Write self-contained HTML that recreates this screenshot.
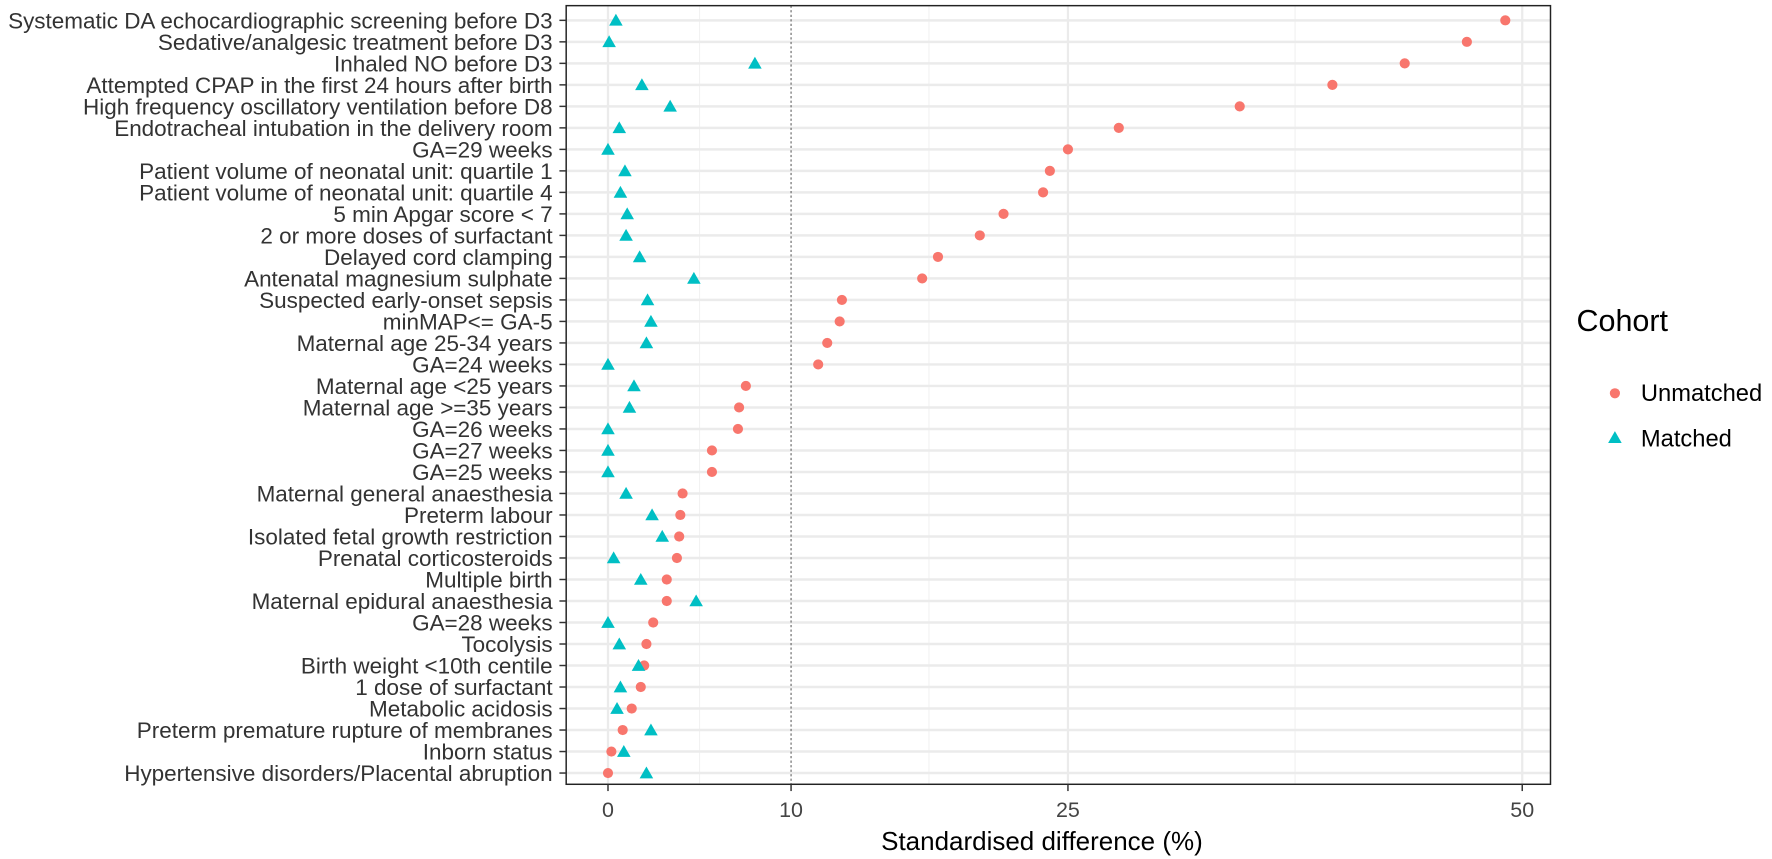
<!DOCTYPE html>
<html><head><meta charset="utf-8"><style>
html,body{margin:0;padding:0;background:#fff;}
svg{display:block;font-family:"Liberation Sans",Arial,sans-serif;}
</style></head><body>
<svg width="1772" height="859" viewBox="0 0 1772 859" xmlns="http://www.w3.org/2000/svg">
<rect x="0" y="0" width="1772" height="859" fill="#fff"/>
<g transform="scale(1.1301)">
<g id="grid"></g>
<g id="pts"></g>
<rect x="501" y="5" width="871" height="689" fill="none" stroke="#222" stroke-width="1.3"/>
<g id="labels" font-size="19.9" fill="#333" text-anchor="end"></g>
<g font-size="19" fill="#444" text-anchor="middle">
<text x="538" y="723">0</text><text x="700" y="723">10</text><text x="945" y="723">25</text><text x="1347" y="723">50</text>
</g>
<g stroke="#333" stroke-width="1.3">
<line x1="538" y1="694" x2="538" y2="700"/><line x1="700" y1="694" x2="700" y2="700"/><line x1="945" y1="694" x2="945" y2="700"/><line x1="1347" y1="694" x2="1347" y2="700"/>
</g>
<text x="922" y="752" font-size="23" fill="#000" text-anchor="middle">Standardised difference (%)</text>
<text x="1395" y="293" font-size="27" fill="#000">Cohort</text>
<circle cx="1429" cy="348" r="4.5" fill="#F8766D"/>
<text x="1452" y="355" font-size="21" fill="#000">Unmatched</text>
<polygon points="1429,381.5 1435,392 1423,392" fill="#00BFC4"/>
<text x="1452" y="395" font-size="21" fill="#000">Matched</text>
</g>
<script>
var labels=["Systematic DA echocardiographic screening before D3","Sedative/analgesic treatment before D3","Inhaled NO before D3","Attempted CPAP in the first 24 hours after birth","High frequency oscillatory ventilation before D8","Endotracheal intubation in the delivery room","GA=29 weeks","Patient volume of neonatal unit: quartile 1","Patient volume of neonatal unit: quartile 4","5 min Apgar score < 7","2 or more doses of surfactant","Delayed cord clamping","Antenatal magnesium sulphate","Suspected early-onset sepsis","minMAP<= GA-5","Maternal age 25-34 years","GA=24 weeks","Maternal age <25 years","Maternal age >=35 years","GA=26 weeks","GA=27 weeks","GA=25 weeks","Maternal general anaesthesia","Preterm labour","Isolated fetal growth restriction","Prenatal corticosteroids","Multiple birth","Maternal epidural anaesthesia","GA=28 weeks","Tocolysis","Birth weight <10th centile","1 dose of surfactant","Metabolic acidosis","Preterm premature rupture of membranes","Inborn status","Hypertensive disorders/Placental abruption"];
var u=[1332,1298,1243,1179,1097,990,945,929,923,888,867,830,816,745,743,732,724,660,654,653,630,630,604,602,601,599,590,590,578,572,570,567,559,551,541,538];
var m=[545,539,668,568,593,548,538,553,549,555,554,566,614,573,576,572,538,561,557,538,538,538,554,577,586,543,567,616,538,548,565,549,546,576,552,572];
var NS="http://www.w3.org/2000/svg";
function el(t,a,p){var e=document.createElementNS(NS,t);for(var k in a)e.setAttribute(k,a[k]);p.appendChild(e);return e;}
var g=document.getElementById("grid"),p=document.getElementById("pts"),L=document.getElementById("labels");
[619,822,1146].forEach(function(x){el("line",{x1:x,y1:5,x2:x,y2:694,stroke:"#f2f2f2","stroke-width":1},g);});
[538,945,1347].forEach(function(x){el("line",{x1:x,y1:5,x2:x,y2:694,stroke:"#ebebeb","stroke-width":2},g);});
for(var i=0;i<36;i++){var y=18+i*19.03;
el("line",{x1:501,y1:y,x2:1372,y2:y,stroke:"#ebebeb","stroke-width":2.2},g);
el("line",{x1:495,y1:y,x2:501,y2:y,stroke:"#333","stroke-width":1.3},L);
var t=el("text",{x:489,y:y+7},L);t.textContent=labels[i];}
el("line",{x1:700,y1:5,x2:700,y2:694,stroke:"#666","stroke-width":1,"stroke-dasharray":"2,2"},g);
for(var i=0;i<36;i++){var y=18+i*19.03;
el("circle",{cx:u[i],cy:y,r:4.5,fill:"#F8766D"},p);
el("polygon",{points:m[i]+","+(y-5.8)+" "+(m[i]+6)+","+(y+4.7)+" "+(m[i]-6)+","+(y+4.7),fill:"#00BFC4"},p);}
</script>
</svg>
</body></html>
